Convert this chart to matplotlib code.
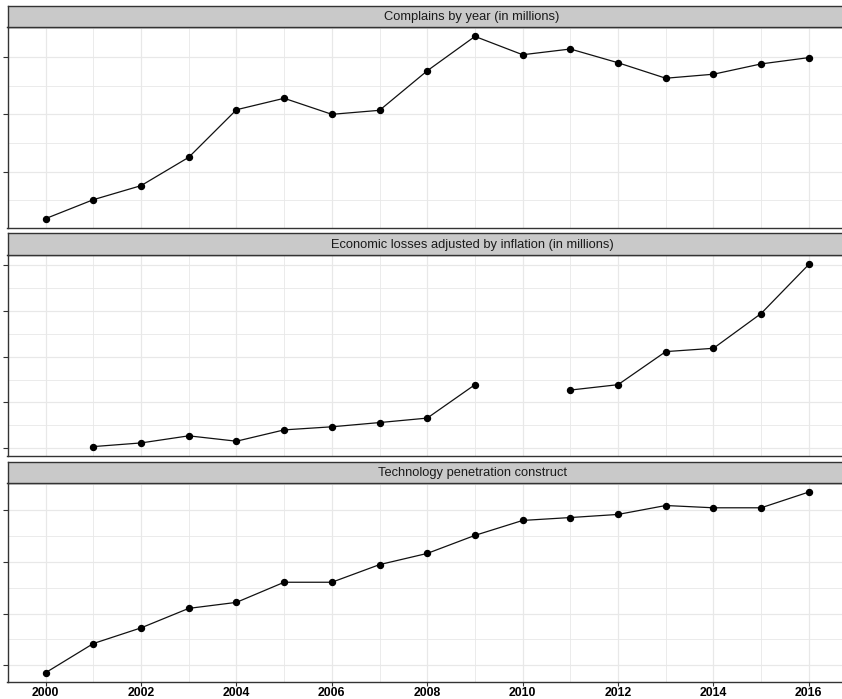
import numpy as np
import matplotlib
matplotlib.use("Agg")
import matplotlib.pyplot as plt
from matplotlib.ticker import MultipleLocator
from matplotlib.transforms import blended_transform_factory

plt.rcParams['font.family'] = ['Liberation Sans', 'DejaVu Sans']

years = list(range(2000, 2017))

complaints = [0.018, 0.051, 0.0755, 0.125, 0.208, 0.228, 0.200, 0.207, 0.276,
              0.336, 0.304, 0.314, 0.290, 0.263, 0.270, 0.288, 0.299]

losses = [np.nan, 14, 46, 108, 61, 160, 187, 224, 263, 555,
          np.nan, 508, 555, 844, 873, 1177, 1606]

technology = [0.215, 0.3555, 0.431, 0.525, 0.554, 0.651, 0.651, 0.736, 0.79,
              0.877, 0.949, 0.963, 0.978, 1.021, 1.01, 1.01, 1.086]

titles = ["Complains by year (in millions)",
          "Economic losses adjusted by inflation (in millions)",
          "Technology penetration construct"]

y_ticks = [[0.1, 0.2, 0.3], [0, 400, 800, 1200, 1600], [0.25, 0.50, 0.75, 1.00]]
y_tick_labels = [["0.1", "0.2", "0.3"], ["0", "400", "800", "1200", "1600"],
                 ["0.25", "0.50", "0.75", "1.00"]]
x_ticks = [2000, 2002, 2004, 2006, 2008, 2010, 2012, 2014, 2016]

W, H = 842, 699
fig = plt.figure(figsize=(W / 100, H / 100), dpi=100)

# panel layout in pixels: (strip top, panel top, panel bottom)
rows = [(6, 27.3, 227.7), (233, 255.3, 455.7), (462, 483, 681.7)]
left_px, right_px = 7.5, 847
strip_centre_px = 472

border = '#333333'
grid_c = '#E8E8E8'

def frac_box(top, bottom):
    return [left_px / W, (H - bottom) / H, (right_px - left_px) / W, (bottom - top) / H]

series = [complaints, losses, technology]
for i, (s_top, p_top, p_bot) in enumerate(rows):
    ax = fig.add_axes(frac_box(p_top, p_bot))
    vals = np.array(series[i], dtype=float)
    ax.plot(years, vals, color='#111111', lw=0.9, zorder=3)
    ax.plot(years, vals, 'o', color='black', ms=4.3, zorder=4)

    finite = vals[np.isfinite(vals)]
    lo, hi = finite.min(), finite.max()
    pad = (hi - lo) * 0.05
    ax.set_ylim(lo - pad, hi + pad)
    ax.set_xlim(2000 - 0.8, 2016 + 0.8)

    ax.set_yticks(y_ticks[i])
    ax.set_yticklabels(y_tick_labels[i])
    step = y_ticks[i][1] - y_ticks[i][0]
    ax.yaxis.set_minor_locator(MultipleLocator(step / 2))
    ax.set_xticks(x_ticks)
    ax.xaxis.set_minor_locator(MultipleLocator(1))

    ax.grid(which='major', color=grid_c, lw=0.9, zorder=0)
    ax.grid(which='minor', color=grid_c, lw=0.6, zorder=0)
    ax.set_axisbelow(True)

    for sp in ax.spines.values():
        sp.set_color(border)
        sp.set_linewidth(1.0)

    ax.tick_params(axis='y', which='major', length=3.5, width=0.8, color=border,
                   labelsize=8, labelcolor='black', pad=2)
    ax.tick_params(which='minor', length=0)
    if i == 2:
        ax.tick_params(axis='x', which='major', length=2.75, width=0.8, color=border,
                       labelsize=8.8, labelcolor='black', pad=0.8)
        for lab in ax.get_xticklabels():
            lab.set_fontweight('bold')
    else:
        ax.tick_params(axis='x', which='major', length=0, labelbottom=False)

    # facet strip above the panel
    sax = fig.add_axes(frac_box(s_top, p_top))
    sax.set_facecolor('#C9C9C9')
    sax.set_xticks([])
    sax.set_yticks([])
    for sp in sax.spines.values():
        sp.set_color(border)
        sp.set_linewidth(1.0)
    tr = blended_transform_factory(fig.transFigure, sax.transAxes)
    sax.text(strip_centre_px / W, 0.48, titles[i], transform=tr,
             ha='center', va='center', fontsize=9.3, color='#1a1a1a')

fig.savefig('out.png', dpi=100)
